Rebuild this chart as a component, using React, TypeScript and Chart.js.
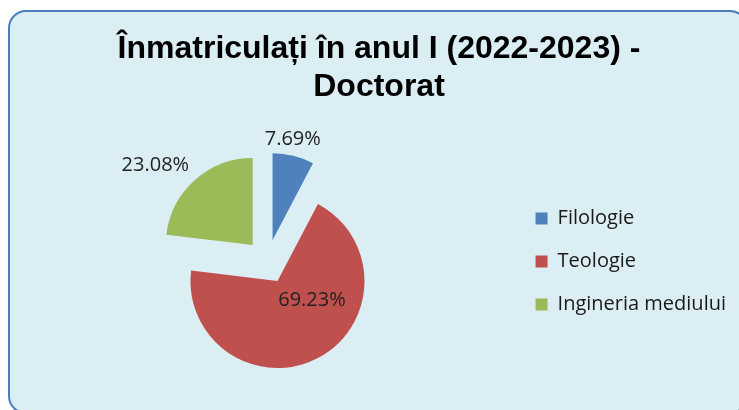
import React, { useEffect, useRef } from "react";
import { Chart, registerables } from "chart.js";

Chart.register(...registerables);

const titleLines = ["Înmatriculați în anul I (2022-2023) -", "Doctorat"];
const categories = ["Filologie", "Teologie", "Ingineria mediului"];
const values = [1, 9, 3];
const colors = ["#4F81BD", "#C0504D", "#9BBB59"];

const explodePlugin = {
  id: "explodeSlices",
  beforeDatasetDraw(chart: any, args: any, opts: any) {
    const ctx = chart.ctx;
    const d = opts.distance || 0;
    args.meta.data.forEach((arc: any) => {
      const { startAngle, endAngle } = arc.getProps(["startAngle", "endAngle"], true);
      const mid = (startAngle + endAngle) / 2;
      ctx.save();
      ctx.translate(Math.cos(mid) * d, Math.sin(mid) * d);
      arc.draw(ctx);
      ctx.restore();
    });
    return false;
  },
};

const pctLabelPlugin = {
  id: "pctLabels",
  afterDatasetsDraw(chart: any, _args: any, opts: any) {
    const ctx = chart.ctx;
    const meta = chart.getDatasetMeta(0);
    const data = chart.data.datasets[0].data as number[];
    const total = data.reduce((a, b) => a + b, 0);
    const d = opts.distance || 0;
    ctx.save();
    ctx.font = opts.font;
    ctx.fillStyle = opts.color;
    ctx.textAlign = "center";
    ctx.textBaseline = "middle";
    meta.data.forEach((arc: any, i: number) => {
      const { x, y, startAngle, endAngle, outerRadius } = arc.getProps(
        ["x", "y", "startAngle", "endAngle", "outerRadius"],
        true
      );
      const mid = (startAngle + endAngle) / 2;
      const cx = x + Math.cos(mid) * d;
      const cy = y + Math.sin(mid) * d;
      const th = startAngle + opts.angleFrac[i] * (endAngle - startAngle);
      const rr = outerRadius * opts.radiusFactor[i];
      const text = ((data[i] / total) * 100).toFixed(2) + "%";
      ctx.fillText(text, cx + Math.cos(th) * rr, cy + Math.sin(th) * rr);
    });
    ctx.restore();
  },
};

export default function App() {
  const ref = useRef<HTMLCanvasElement | null>(null);

  useEffect(() => {
    if (!ref.current) return;
    const chart = new Chart(ref.current, {
      type: "pie",
      data: {
        labels: categories,
        datasets: [
          {
            data: values,
            backgroundColor: colors,
            borderWidth: 0,
          },
        ],
      },
      options: {
        responsive: false,
        animation: false,
        radius: 87,
        layout: { padding: { left: 22, right: 3, top: 0, bottom: 3 } },
        plugins: {
          title: {
            display: true,
            text: titleLines,
            color: "#000000",
            font: { family: "'Liberation Sans', Arial, sans-serif", size: 32, weight: "bold", lineHeight: 1.19 },
            padding: { top: 30, bottom: 10 },
          },
          legend: {
            position: "right",
            fullSize: false,
            labels: {
              boxWidth: 12,
              boxHeight: 12,
              padding: 23,
              color: "#1a1a1a",
              font: { family: "'Open Sans', sans-serif", size: 20 },
            },
          },
          tooltip: { enabled: false },
          explodeSlices: { distance: 22 },
          pctLabels: {
            distance: 22,
            font: "20px 'Open Sans', sans-serif",
            color: "#222222",
            angleFrac: [0.408, 0.368, 0.391],
            radiusFactor: [1.188, 0.455, 1.448],
          },
        } as any,
      } as any,
      plugins: [explodePlugin, pctLabelPlugin],
    });
    return () => chart.destroy();
  }, []);

  return (
    <div style={{ position: "absolute", left: 0, top: 0, width: 739, height: 410, overflow: "hidden" }}>
      <div
        style={{
          position: "absolute",
          left: 8,
          top: 10,
          width: 740,
          height: 404,
          boxSizing: "border-box",
          border: "2px solid #4A7EBB",
          borderRadius: 18,
          background: "#DBEEF4",
        }}
      />
      <canvas
        ref={ref}
        width={739}
        height={410}
        style={{ position: "absolute", left: 0, top: 0, width: 739, height: 410 }}
      />
    </div>
  );
}
